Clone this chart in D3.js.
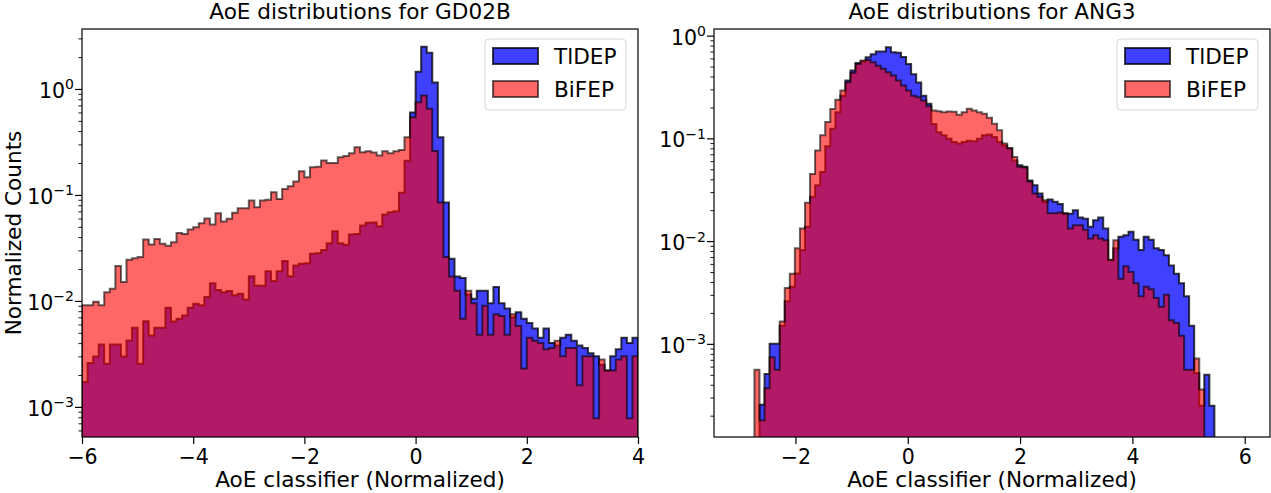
<!DOCTYPE html>
<html>
<head>
<meta charset="utf-8">
<script src="https://cdn.jsdelivr.net/npm/d3@7"></script>
<style>
  html, body { margin: 0; padding: 0; background: #fff; }
  svg { display: block; font-family: 'DejaVu Sans', sans-serif; }
</style>
</head>
<body>
<svg id="chart" width="1271" height="493"></svg>
<script>
// Binning of the two histograms
const gdBinStart = -6, gdBinWidth = 0.1;
const angBinStart = -3, angBinWidth = 0.09;

// GD02B — normalized counts per bin (100 bins from -6 to 4)
const gdTlDEP = [
  0.00172, 0.00259, 0.00299, 0.00389, 0.00256, 0.00389, 0.00389, 0.00299, 0.00424, 0.00557,
  0.00256, 0.00644, 0.00472, 0.00557, 0.00557, 0.00863, 0.0064, 0.00679, 0.0073, 0.0086,
  0.0094, 0.0091, 0.0109, 0.0147, 0.0127, 0.0121, 0.0124, 0.0113, 0.0117, 0.0103,
  0.0171, 0.0140, 0.0139, 0.0191, 0.0154, 0.0191, 0.0238, 0.0171, 0.0216, 0.0224,
  0.0227, 0.0279, 0.0282, 0.0303, 0.0351, 0.0455, 0.0351, 0.0339, 0.0424, 0.0429,
  0.0515, 0.0546, 0.055, 0.0507, 0.0654, 0.0687, 0.070, 0.105, 0.21, 0.60,
  1.45, 2.5, 2.2, 1.15, 0.35, 0.085, 0.025, 0.017, 0.0165, 0.0115,
  0.0105, 0.0125, 0.0125, 0.0095, 0.0135, 0.0095, 0.0085, 0.0070, 0.0078, 0.0068,
  0.0062, 0.0055, 0.0045, 0.0055, 0.0040, 0.0038, 0.0045, 0.0048, 0.0042, 0.0038,
  0.0036, 0.0032, 0.0030, 0.0025, 0.0022, 0.0030, 0.0035, 0.0045, 0.0040, 0.0045
];
const gdBiFEP = [
  0.0091, 0.0091, 0.0098, 0.0091, 0.0121, 0.0130, 0.0213, 0.0151, 0.0244, 0.0253,
  0.0259, 0.0380, 0.0341, 0.0385, 0.0346, 0.0331, 0.0358, 0.0438, 0.0429, 0.0472,
  0.0497, 0.0542, 0.0600, 0.0526, 0.0673, 0.0562, 0.0596, 0.0678, 0.0750, 0.0750,
  0.0885, 0.0766, 0.0885, 0.0899, 0.106, 0.0918, 0.114, 0.121, 0.134, 0.167,
  0.147, 0.183, 0.185, 0.211, 0.200, 0.200, 0.227, 0.233, 0.247, 0.282,
  0.253, 0.258, 0.252, 0.235, 0.258, 0.247, 0.258, 0.266, 0.35, 0.54,
  0.75, 0.87, 0.65, 0.26, 0.085, 0.026, 0.017, 0.0125, 0.0068, 0.0125,
  0.0095, 0.0048, 0.0090, 0.0048, 0.0075, 0.0072, 0.0048, 0.0075, 0.0058, 0.0023,
  0.0045, 0.0042, 0.0040, 0.0035, 0.0036, 0.0042, 0.0030, 0.0036, 0.0036, 0.0016,
  0.0030, 0.0030, 0.00078, 0.0028, 0.0022, 0.0022, 0.0028, 0.0030, 0.00078, 0.0030
];

// ANG3 — normalized counts per bin (100 bins from -3 to 6)
const angTlDEP = [
  0, 0, 0, 0, 2.55e-4, 5.1e-4, 1.0e-3, 1.0e-3, 1.5e-3, 2.6e-3,
  3.6e-3, 4.85e-3, 8.2e-3, 0.0138, 0.027, 0.035, 0.047, 0.084, 0.124, 0.18,
  0.26, 0.366, 0.457, 0.54, 0.56, 0.616, 0.66, 0.70, 0.70, 0.77,
  0.69, 0.68, 0.62, 0.53, 0.42, 0.35, 0.26, 0.217, 0.138, 0.115,
  0.107, 0.099, 0.092, 0.089, 0.092, 0.095, 0.094, 0.099, 0.107, 0.109,
  0.103, 0.092, 0.085, 0.080, 0.061, 0.0547, 0.053, 0.039, 0.035, 0.029,
  0.024, 0.0254, 0.0241, 0.023, 0.0187, 0.0185, 0.020, 0.017, 0.0165, 0.0138,
  0.016, 0.017, 0.0133, 0.0065, 0.0085, 0.011, 0.0114, 0.0123, 0.0103, 0.0082,
  0.011, 0.0103, 0.0085, 0.0082, 0.0073, 0.0058, 0.0048, 0.0039, 0.0029, 0.0015,
  5.2e-4, 2.5e-4, 5.0e-4, 2.5e-4, 0, 0, 0, 0, 0, 0
];
const angBiFEP = [
  0, 0, 0, 5.6e-4, 1.8e-4, 3.7e-4, 7.4e-4, 5.6e-4, 1.65e-3, 3.5e-3,
  4.8e-3, 8.5e-3, 0.0133, 0.0236, 0.045, 0.076, 0.107, 0.144, 0.193, 0.237,
  0.292, 0.352, 0.434, 0.53, 0.572, 0.58, 0.55, 0.51, 0.475, 0.44,
  0.41, 0.366, 0.327, 0.292, 0.26, 0.252, 0.234, 0.205, 0.187, 0.184,
  0.18, 0.183, 0.182, 0.170, 0.180, 0.194, 0.187, 0.180, 0.174, 0.159,
  0.139, 0.12, 0.089, 0.080, 0.066, 0.053, 0.052, 0.038, 0.029, 0.027,
  0.025, 0.0187, 0.0187, 0.019, 0.0185, 0.0133, 0.0143, 0.0143, 0.0129, 0.0106,
  0.0114, 0.0106, 0.0102, 0.0066, 0.0102, 0.0043, 0.0057, 0.005, 0.0039, 0.0029,
  0.0036, 0.0034, 0.0028, 0.0023, 0.003, 0.0017, 0.0016, 0.0012, 5.6e-4, 5.6e-4,
  7.2e-4, 3.6e-4, 0, 0, 0, 0, 0, 0, 0, 0
];

const seriesNames = ['TlDEP', 'BiFEP'];
const gdXTicks = [-6, -4, -2, 0, 2, 4];
const angXTicks = [-2, 0, 2, 4, 6];
const yDecades = [1, 0.1, 0.01, 0.001];

const FILL = ['rgba(0,0,255,0.75)', 'rgba(255,0,0,0.6)'];
const EDGE = ['rgba(0,0,0,0.75)', 'rgba(0,0,0,0.6)'];
const TOP = 29, W = 556, H = 408;
const FS = 21.6, TICK_FS = 20.5;

const panels = [
  { title: 'AoE distributions for GD02B', left: 82, start: gdBinStart, step: gdBinWidth,
    series: [gdTlDEP, gdBiFEP], xDomain: [-6, 4], xTicks: gdXTicks, yDomain: [5.2e-4, 3.68], ylabel: true },
  { title: 'AoE distributions for ANG3', left: 714, start: angBinStart, step: angBinWidth,
    series: [angTlDEP, angBiFEP], xDomain: [-3.45, 6.45], xTicks: angXTicks, yDomain: [1.24e-4, 1.16], ylabel: false }
];

const svg = d3.select('#chart');
const defs = svg.append('defs');
const fmtMinus = d => (d < 0 ? '\u2212' + Math.abs(d) : String(d));

panels.forEach((p, idx) => {
  const g = svg.append('g').attr('transform', `translate(${p.left},${TOP})`);
  const x = d3.scaleLinear().domain(p.xDomain).range([0, W]);
  const y = d3.scaleLog().domain(p.yDomain).range([H, 0]);

  const clipId = 'plotclip' + idx;
  defs.append('clipPath').attr('id', clipId)
    .append('rect').attr('width', W).attr('height', H);

  // step-filled histograms
  const base = H + 10;
  p.series.forEach((vals, s) => {
    const edges = d3.range(vals.length + 1).map(i => p.start + i * p.step);
    const pts = [[x(edges[0]), base]];
    vals.forEach((v, i) => {
      const yy = v > 0 ? y(v) : base;
      pts.push([x(edges[i]), yy], [x(edges[i + 1]), yy]);
    });
    pts.push([x(edges[vals.length]), base]);
    g.append('path')
      .attr('clip-path', `url(#${clipId})`)
      .attr('d', d3.line()(pts) + 'Z')
      .attr('fill', FILL[s])
      .attr('stroke', EDGE[s])
      .attr('stroke-width', 2)
      .attr('stroke-linejoin', 'miter');
  });

  // X axis
  const xAxis = g.append('g').attr('transform', `translate(0,${H})`)
    .call(d3.axisBottom(x).tickValues(p.xTicks).tickSize(7).tickPadding(5).tickFormat(fmtMinus));
  xAxis.select('.domain').remove();
  xAxis.attr('font-size', TICK_FS).attr('font-family', 'DejaVu Sans');
  xAxis.selectAll('line').attr('stroke', '#000').attr('stroke-width', 1.2);
  xAxis.selectAll('text').attr('fill', '#000');

  // Y axis, minor ticks
  const minors = [];
  d3.range(-4, 1).forEach(e => d3.range(2, 10).forEach(m => {
    const v = m * Math.pow(10, e);
    if (v >= p.yDomain[0] && v <= p.yDomain[1]) minors.push(v);
  }));
  const yMinor = g.append('g')
    .call(d3.axisLeft(y).tickValues(minors).tickSize(3.6).tickFormat(''));
  yMinor.select('.domain').remove();
  yMinor.selectAll('line').attr('stroke', '#000').attr('stroke-width', 0.9);

  // Y axis, decades
  const yMajor = g.append('g')
    .call(d3.axisLeft(y).tickValues(yDecades).tickSize(7).tickFormat(''));
  yMajor.select('.domain').remove();
  yMajor.selectAll('line').attr('stroke', '#000').attr('stroke-width', 1.2);
  yDecades.forEach(v => {
    const exp = Math.round(Math.log10(v));
    const t = g.append('text')
      .attr('x', -8).attr('y', y(v) + 9)
      .attr('text-anchor', 'end')
      .attr('font-size', TICK_FS)
      .text('10');
    t.append('tspan').attr('dy', -8.5).attr('font-size', 14).text(fmtMinus(exp));
  });

  // frame
  g.append('rect').attr('width', W).attr('height', H)
    .attr('fill', 'none').attr('stroke', '#000').attr('stroke-width', 1.2);

  // title and x label
  g.append('text').attr('x', W / 2).attr('y', -10)
    .attr('text-anchor', 'middle').attr('font-size', FS).text(p.title);
  g.append('text').attr('x', W / 2).attr('y', H + 50)
    .attr('text-anchor', 'middle').attr('font-size', FS).text('AoE classifier (Normalized)');

  if (p.ylabel) {
    g.append('text')
      .attr('transform', `translate(${21 - p.left},${H / 2}) rotate(-90)`)
      .attr('text-anchor', 'middle').attr('font-size', FS).text('Normalized Counts');
  }

  // legend
  const lg = g.append('g').attr('transform', `translate(${W - 12 - 141},10)`);
  lg.append('rect').attr('width', 141).attr('height', 71).attr('rx', 4)
    .attr('fill', 'rgba(255,255,255,0.8)').attr('stroke', '#d6d6d6').attr('stroke-width', 1);
  seriesNames.forEach((name, s) => {
    const yy = 9 + s * 33;
    lg.append('rect').attr('x', 8).attr('y', yy).attr('width', 45).attr('height', 16)
      .attr('fill', FILL[s]).attr('stroke', EDGE[s]).attr('stroke-width', 2);
    lg.append('text').attr('x', 69).attr('y', yy + 15.5)
      .attr('font-size', FS).text(name);
  });
});
</script>
</body>
</html>
